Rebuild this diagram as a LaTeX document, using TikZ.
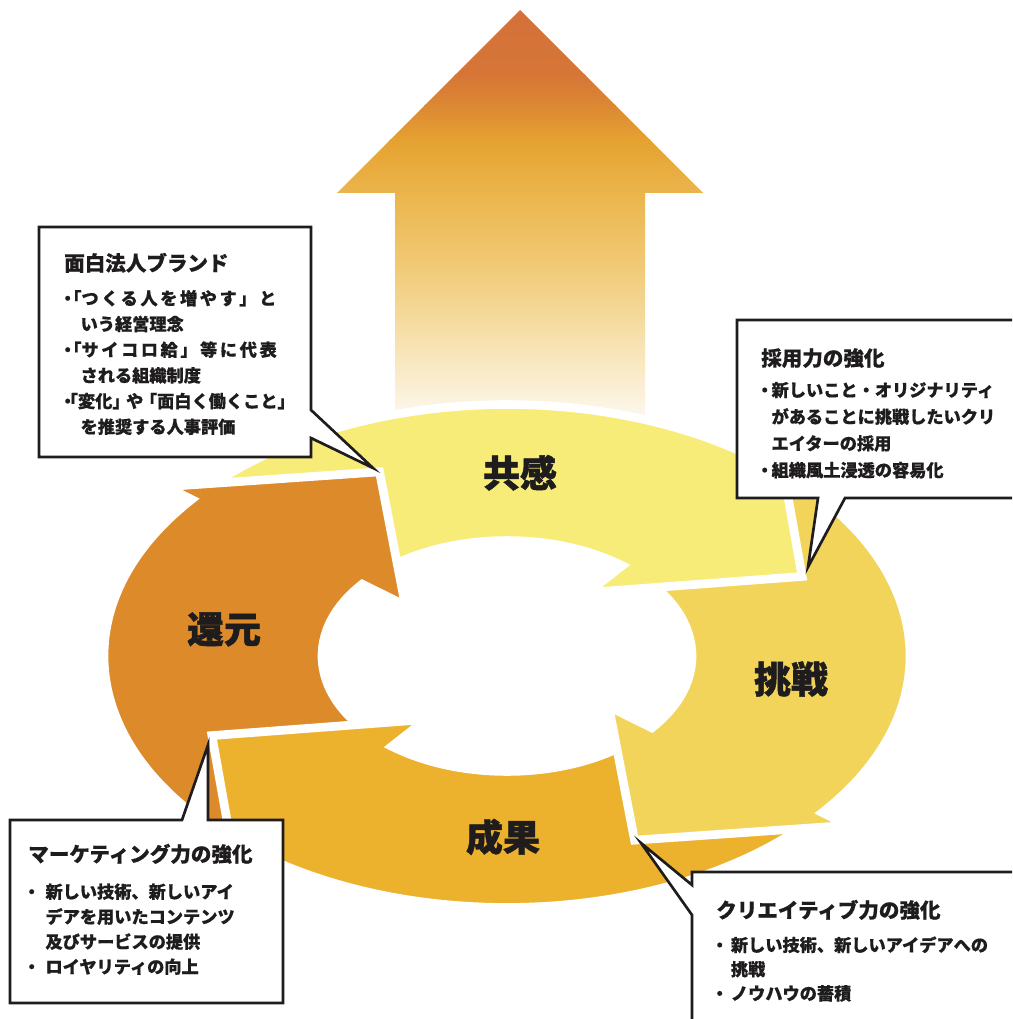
\documentclass[tikz,border=0pt]{standalone}
\usepackage{fontspec}
\setmainfont{Noto Sans CJK JP}
\usetikzlibrary{calc}
\definecolor{cOrange}{HTML}{DD8A2B}
\definecolor{cYellow}{HTML}{F7EC78}
\definecolor{cChal}{HTML}{F3D45B}
\definecolor{cSeika}{HTML}{EDB22D}
\definecolor{ink}{HTML}{1E1C1C}
\definecolor{ua1}{HTML}{D4703A}
\definecolor{ua2}{HTML}{D67636}
\definecolor{ua3}{HTML}{DC8833}
\definecolor{ua4}{HTML}{E5A230}
\definecolor{ua5}{HTML}{EBB54C}
\definecolor{ua6}{HTML}{F0C872}
\definecolor{ua7}{HTML}{F6DEA6}
\definecolor{ua8}{HTML}{FBF1DC}
\definecolor{ua9}{HTML}{FFFFFF}
\newcommand\bu[1]{\makebox[#1][l]{\hspace{-0.3em}・}}
\newcommand\ct[1]{\hspace*{#1}}
\newcommand\lsp{\addfontfeature{LetterSpace=15}}
\newcommand\ringpiece[2]{%
  \pgfmathsetmacro\rpH{#1-90}%
  \pgfmathsetmacro\rpA{#1-90-28.13}%
  \path[piece, fill=#2] (#1:403) arc[start angle=#1, end angle=\rpH, radius=403]
    -- (\rpH:436) -- (\rpA:321.5) -- (\rpH:130) -- (\rpH:185)
    arc[start angle=\rpH, end angle=#1, radius=185] -- cycle;}
\tikzset{
  piece/.style={draw=white, line width=6.5pt, line join=miter, miter limit=4},
  callout/.style={fill=white, draw=ink, line width=2pt, line join=miter},
  lbl/.style={inner sep=0pt, text height=21.1pt, text depth=0pt,
    font=\fontsize{27.75pt}{30pt}\selectfont\bfseries\addfontfeature{FakeBold=1.2}, text=ink},
  hd/.style={anchor=west, inner sep=0pt, text height=11.7pt, text depth=0pt,
    font=\fontsize{15.4pt}{18pt}\selectfont\bfseries\addfontfeature{FakeBold=0.6}, text=ink},
  bl/.style={anchor=west, inner sep=0pt, text height=9.8pt, text depth=0pt,
    font=\fontsize{12.9pt}{15pt}\selectfont\bfseries\addfontfeature{FakeBold=0.5}, text=ink},
}
\begin{document}
\begin{tikzpicture}[x=0.75pt, y=-0.75pt]
\useasboundingbox (0,0) rectangle (1012,1019);
\clip (0,0) rectangle (1012,1019);

% big upward arrow with gradient
\begin{scope}
  \clip (395,432) -- (395,193) -- (337,193) -- (520,10) -- (703,193) -- (645,193) -- (645,432) -- cycle;
  \foreach \ya/\yb/\ca/\cb in {8/75/ua1/ua2, 75/105/ua2/ua3, 105/140/ua3/ua4, 140/193/ua4/ua5,
      193/260/ua5/ua6, 260/330/ua6/ua7, 330/395/ua7/ua8, 395/440/ua8/ua9}
    \shade[top color=\ca, bottom color=\cb] (330,\ya) rectangle (710,{\yb+0.8});
\end{scope}

% ring of four curved arrows
\begin{scope}[shift={(507,656)}, yscale=-0.624]
  \ringpiece{51.5}{cChal}
  \ringpiece{141.5}{cYellow}
  \ringpiece{231.5}{cOrange}
  \ringpiece{321.5}{cSeika}
\end{scope}
\begin{scope}
  \clip (560,662) rectangle (1012,1019);
  \begin{scope}[shift={(507,656)}, yscale=-0.624]
    \ringpiece{51.5}{cChal}
  \end{scope}
\end{scope}

% ring labels
\node[lbl] (kyokan) at (520,473) {共感};
\node[lbl] (chosen) at (791,679) {挑戦};
\node[lbl] (seika)  at (503,837) {成果};
\node[lbl] (kangen) at (224,629) {還元};

% callout pointer tips
\coordinate (t1) at (373,468);
\coordinate (t2) at (808,567);
\coordinate (t3) at (208,745);
\coordinate (t4) at (641,843);

% callout boxes
\draw[callout] (39,227) -- (311,227) -- (311,410) -- (t1) -- (311,438) -- (311,457) -- (39,457) -- cycle;
\draw[callout] (737,320) -- (1025,320) -- (1025,498) -- (845,498) -- (t2) -- (818,498) -- (737,498) -- cycle;
\draw[callout] (10,820) -- (182,820) -- (t3) -- (208,820) -- (283,820) -- (283,1003) -- (10,1003) -- cycle;
\draw[callout] (692,872) -- (1025,872) -- (1025,1030) -- (692,1030) -- (692,915) -- (t4) -- (692,885) -- cycle;

% callout 1
\node[hd] (c1h) at (64,263) {面白法人ブランド};
\foreach \t [count=\i] in {%
  {\bu{0.95em}\kern-0.95em「{\lsp つくる人を増やす」と}},
  {\ct{0.95em}いう経営理念},
  {\bu{0.95em}\kern-0.95em「{\lsp サイコロ給」等に代表}},
  {\ct{0.95em}される組織制度},
  {\bu{0.8em}\kern-1em「変化」\kern-0.2em や\kern-0.2em「面白く働くこと」},
  {\ct{0.95em}を推奨する人事評価}}
  \node[bl] (c1l\i) at (64,{298.3+(\i-1)*25.7}) {\t};

% callout 2
\node[hd] (c2h) at (761,358) {採用力の強化};
\foreach \t [count=\i] in {%
  {\bu{0.6em}新しいこと・オリジナリティ},
  {\ct{0.6em}があることに挑戦したいクリ},
  {\ct{0.6em}エイターの採用},
  {\bu{0.6em}組織風土浸透の容易化}}
  \node[bl] (c2l\i) at (761,{390+(\i-1)*26.7}) {\t};

% callout 3
\node[hd] (c3h) at (28,854) {マーケティング力の強化};
\foreach \t [count=\i] in {%
  {\bu{1em}新しい技術、新しいアイ},
  {\ct{1em}デアを用いたコンテンツ},
  {\ct{1em}及びサービスの提供},
  {\bu{1em}ロイヤリティの向上}}
  \node[bl] (c3l\i) at (28,{891.7+(\i-1)*25}) {\t};

% callout 4
\node[hd] (c4h) at (716,910) {クリエイティブ力の強化};
\foreach \t [count=\i] in {%
  {\bu{0.85em}新しい技術、新しいアイデアへの},
  {\ct{0.85em}挑戦},
  {\bu{0.85em}ノウハウの蓄積}}
  \node[bl] (c4l\i) at (716,{945+(\i-1)*24.2}) {\t};
\end{tikzpicture}
\end{document}
